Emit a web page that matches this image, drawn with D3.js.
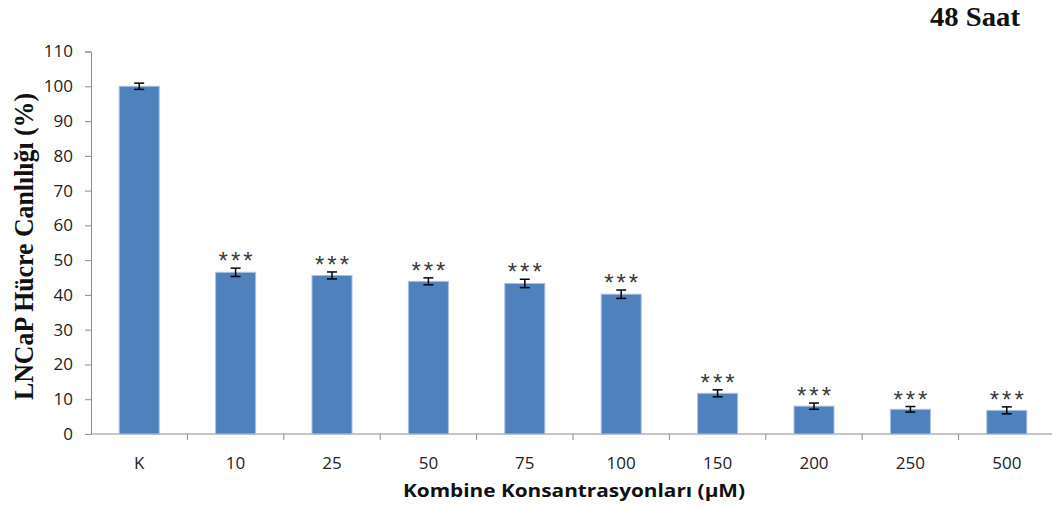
<!DOCTYPE html>
<html>
<head>
<meta charset="utf-8">
<script src="https://cdn.jsdelivr.net/npm/d3@7"></script>
<style>
  html, body { margin: 0; padding: 0; background: #fff; }
  svg { display: block; }
</style>
</head>
<body>
<svg id="chart" width="1052" height="513"></svg>
<script>
// Concentrations (µM) on the x axis; K = control
const categories = ["K", "10", "25", "50", "75", "100", "150", "200", "250", "500"];
// Mean viability (%) and error (±)
const viability = [100, 46.5, 45.6, 43.9, 43.3, 40.2, 11.7, 8.0, 7.1, 6.8];
const errors = [0.9, 1.2, 1.0, 1.0, 1.2, 1.2, 1.0, 0.9, 0.8, 1.0];
// Significance markers above each bar
const markers = ["", "***", "***", "***", "***", "***", "***", "***", "***", "***"];
const yTicks = [0, 10, 20, 30, 40, 50, 60, 70, 80, 90, 100, 110];

const svg = d3.select("#chart");
const plotLeft = 91, plotRight = 1055, plotTop = 51.5, plotBottom = 434;
const axisColor = "#8c8c8c";
const tickFont = "'Open Sans', 'Liberation Sans', sans-serif";

const x = d3.scaleBand().domain(categories).range([plotLeft, plotRight]).paddingInner(0.585).paddingOuter(0.2925);
const y = d3.scaleLinear().domain([0, 110]).range([plotBottom, plotTop]);

// Y axis
const yAxis = svg.append("g")
  .attr("transform", `translate(${plotLeft},0)`)
  .call(d3.axisLeft(y).tickValues(yTicks).tickSize(6).tickPadding(12));
yAxis.select(".domain").attr("stroke", axisColor);
yAxis.selectAll(".tick line").attr("stroke", axisColor);
yAxis.selectAll(".tick text").attr("fill", "#222").style("font-family", tickFont).style("font-size", "17px");

// X axis: ticks sit on category boundaries
const xAxisG = svg.append("g").attr("transform", `translate(0,${plotBottom})`);
xAxisG.append("line").attr("x1", plotLeft).attr("x2", plotRight).attr("stroke", axisColor);
const step = x.step();
const boundaries = categories.map(c => x(c) + x.bandwidth() / 2 + step / 2);
xAxisG.selectAll("line.tick").data(boundaries).enter().append("line")
  .attr("class", "tick").attr("x1", d => d).attr("x2", d => d)
  .attr("y1", 0).attr("y2", 6).attr("stroke", axisColor);
xAxisG.selectAll("text.lbl").data(categories).enter().append("text")
  .attr("class", "lbl")
  .attr("x", d => x(d) + x.bandwidth() / 2)
  .attr("y", 35)
  .attr("text-anchor", "middle")
  .attr("fill", "#222")
  .style("font-family", tickFont).style("font-size", "17px")
  .text(d => d);

// Bars
svg.selectAll("rect.bar").data(categories).enter().append("rect")
  .attr("class", "bar")
  .attr("x", d => x(d))
  .attr("width", x.bandwidth())
  .attr("y", (d, i) => y(viability[i]))
  .attr("height", (d, i) => y(0) - y(viability[i]))
  .attr("fill", "#4f81bd")
  .attr("stroke", "#a9c1e0")
  .attr("stroke-width", 1);

// Error bars
const eb = svg.append("g").attr("stroke", "#000").attr("stroke-width", 1.5);
categories.forEach((c, i) => {
  const cx = x(c) + x.bandwidth() / 2;
  const y1 = y(viability[i] + errors[i]);
  const y2 = y(viability[i] - errors[i]);
  eb.append("line").attr("x1", cx).attr("x2", cx).attr("y1", y1).attr("y2", y2);
  eb.append("line").attr("x1", cx - 5).attr("x2", cx + 5).attr("y1", y1).attr("y2", y1);
  eb.append("line").attr("x1", cx - 5).attr("x2", cx + 5).attr("y1", y2).attr("y2", y2);
});

// Significance stars
svg.selectAll("text.sig").data(categories).enter().append("text")
  .attr("class", "sig")
  .attr("x", d => x(d) + x.bandwidth() / 2 + 1.5)
  .attr("y", (d, i) => y(viability[i] + errors[i]) + 1)
  .attr("text-anchor", "middle")
  .attr("fill", "#3a3a3a")
  .style("font-family", "'Liberation Sans', sans-serif")
  .style("font-size", "24px")
  .style("letter-spacing", "3px")
  .text((d, i) => markers[i]);

// Axis titles
svg.append("text")
  .attr("x", 574).attr("y", 497)
  .attr("text-anchor", "middle")
  .attr("textLength", 342).attr("lengthAdjust", "spacingAndGlyphs")
  .attr("fill", "#111")
  .style("font-family", tickFont).style("font-weight", "bold").style("font-size", "18px")
  .text("Kombine Konsantrasyonları (µM)");

svg.append("text")
  .attr("transform", "translate(33,246.5) rotate(-90)")
  .attr("text-anchor", "middle")
  .attr("textLength", 307).attr("lengthAdjust", "spacingAndGlyphs")
  .attr("fill", "#111")
  .style("font-family", "'Liberation Serif', serif").style("font-weight", "bold").style("font-size", "28px")
  .text("LNCaP Hücre Canlılığı (%)");

svg.append("text")
  .attr("x", 1020).attr("y", 26)
  .attr("text-anchor", "end")
  .attr("textLength", 90).attr("lengthAdjust", "spacingAndGlyphs")
  .attr("fill", "#111")
  .style("font-family", "'Liberation Serif', serif").style("font-weight", "bold").style("font-size", "27px")
  .text("48 Saat");
</script>
</body>
</html>
